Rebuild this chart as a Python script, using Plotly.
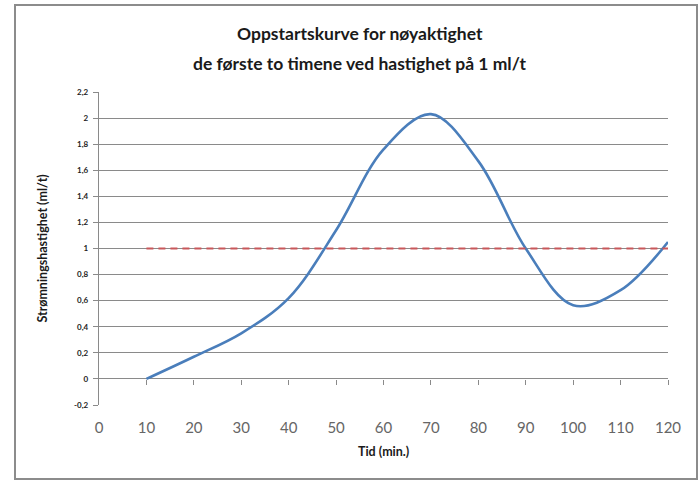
import plotly.graph_objects as go

# startup curve (ml/t every 10 minutes)
time_min = [10, 20, 30, 40, 50, 60, 70, 80, 90, 100, 110, 120]
flow_rate = [0.0, 0.17, 0.35, 0.62, 1.14, 1.76, 2.03, 1.67, 1.0, 0.565, 0.68, 1.05]

# target rate 1 ml/t
target_x = [10, 120]
target_y = [1, 1]

x_ticks = [0, 10, 20, 30, 40, 50, 60, 70, 80, 90, 100, 110, 120]
y_ticks = [-0.2, 0, 0.2, 0.4, 0.6, 0.8, 1, 1.2, 1.4, 1.6, 1.8, 2, 2.2]
y_tick_labels = ['-0,2', '0', '0,2', '0,4', '0,6', '0,8', '1', '1,2', '1,4', '1,6', '1,8', '2', '2,2']

y_min, y_max = -0.2, 2.2
grid = '#8a8a8a'
font = 'Lato'

W, H = 700, 481
L, R, T, B = 99, 32, 92, 76
plot_w = W - L - R
plot_h = H - T - B

fig = go.Figure()

fig.add_trace(go.Scatter(
    x=target_x, y=target_y, xaxis='x2', yaxis='y',
    mode='lines', line=dict(color='#c9575a', width=2.2, dash='7px,5px'),
    hoverinfo='skip'
))

fig.add_trace(go.Scatter(
    x=time_min, y=flow_rate,
    mode='lines', line=dict(color='#4a7ebb', width=2.6, shape='spline', smoothing=1.0)
))

fig.update_layout(
    width=W, height=H,
    margin=dict(l=L, r=R, t=T, b=B),
    plot_bgcolor='white', paper_bgcolor='white',
    showlegend=False,
    font=dict(family=font, color='#222222'),
    xaxis=dict(
        range=[0, 120], tickvals=x_ticks,
        showgrid=False, zeroline=False, showline=False, ticks='',
        tickfont=dict(family=font, size=15, color='#666666'),
        ticklabelstandoff=12,
    ),
    xaxis2=dict(
        range=[0, 120], overlaying='x', anchor='free', side='bottom',
        position=(0 - y_min) / (y_max - y_min),
        tickvals=x_ticks[1:], ticks='outside', ticklen=5, tickwidth=1.3, tickcolor=grid,
        showticklabels=False, showgrid=False, zeroline=False, showline=False,
    ),
    yaxis=dict(
        range=[y_min, y_max], tickvals=y_ticks, ticktext=y_tick_labels,
        showgrid=True, gridcolor=grid, gridwidth=1.3,
        zeroline=False, showline=True, linecolor=grid, linewidth=1.3,
        ticks='outside', ticklen=5, tickwidth=1.3, tickcolor=grid,
        tickfont=dict(family=font, size=8, color='#222222', weight='bold'),
        ticklabelstandoff=3,
    ),
)

# titles (main title is centred on the whole frame, not the plot area)
title_x = (360 - L) / plot_w
fig.add_annotation(text='<b>Oppstartskurve for nøyaktighet</b>', xref='paper', yref='paper',
                   x=title_x, y=1, yshift=T - 33, showarrow=False, yanchor='middle',
                   font=dict(family=font, size=17.5, color='#1a1a1a'))
fig.add_annotation(text='<b>de første to timene ved hastighet på 1 ml/t</b>', xref='paper', yref='paper',
                   x=title_x, y=1, yshift=T - 63, showarrow=False, yanchor='middle',
                   font=dict(family=font, size=17.5, color='#1a1a1a'))
fig.add_annotation(text='<b>Tid (min.)</b>', xref='paper', yref='paper',
                   x=0.5, y=0, yshift=-46, showarrow=False, yanchor='middle',
                   font=dict(family=font, size=12.5, color='#1a1a1a'))
fig.add_annotation(text='<b>Strømningshastighet (ml/t)</b>', xref='paper', yref='paper',
                   x=0, y=0.5, xshift=-57, textangle=-90, showarrow=False, xanchor='center',
                   font=dict(family=font, size=12.5, color='#1a1a1a'))

# chart frame
fig.add_shape(type='rect', xref='paper', yref='paper',
              x0=(15 - L) / plot_w, x1=(697 - L) / plot_w,
              y0=(H - B - 479) / plot_h, y1=(H - B - 5) / plot_h,
              line=dict(color='#8c8c8c', width=2), fillcolor='rgba(0,0,0,0)', layer='below')

# page body has a default 8px margin; drop it so the figure sits at the window origin
fig.write_html('out.html', config={'displayModeBar': False},
               post_script="document.body.style.margin='0';document.body.style.overflow='hidden';")
